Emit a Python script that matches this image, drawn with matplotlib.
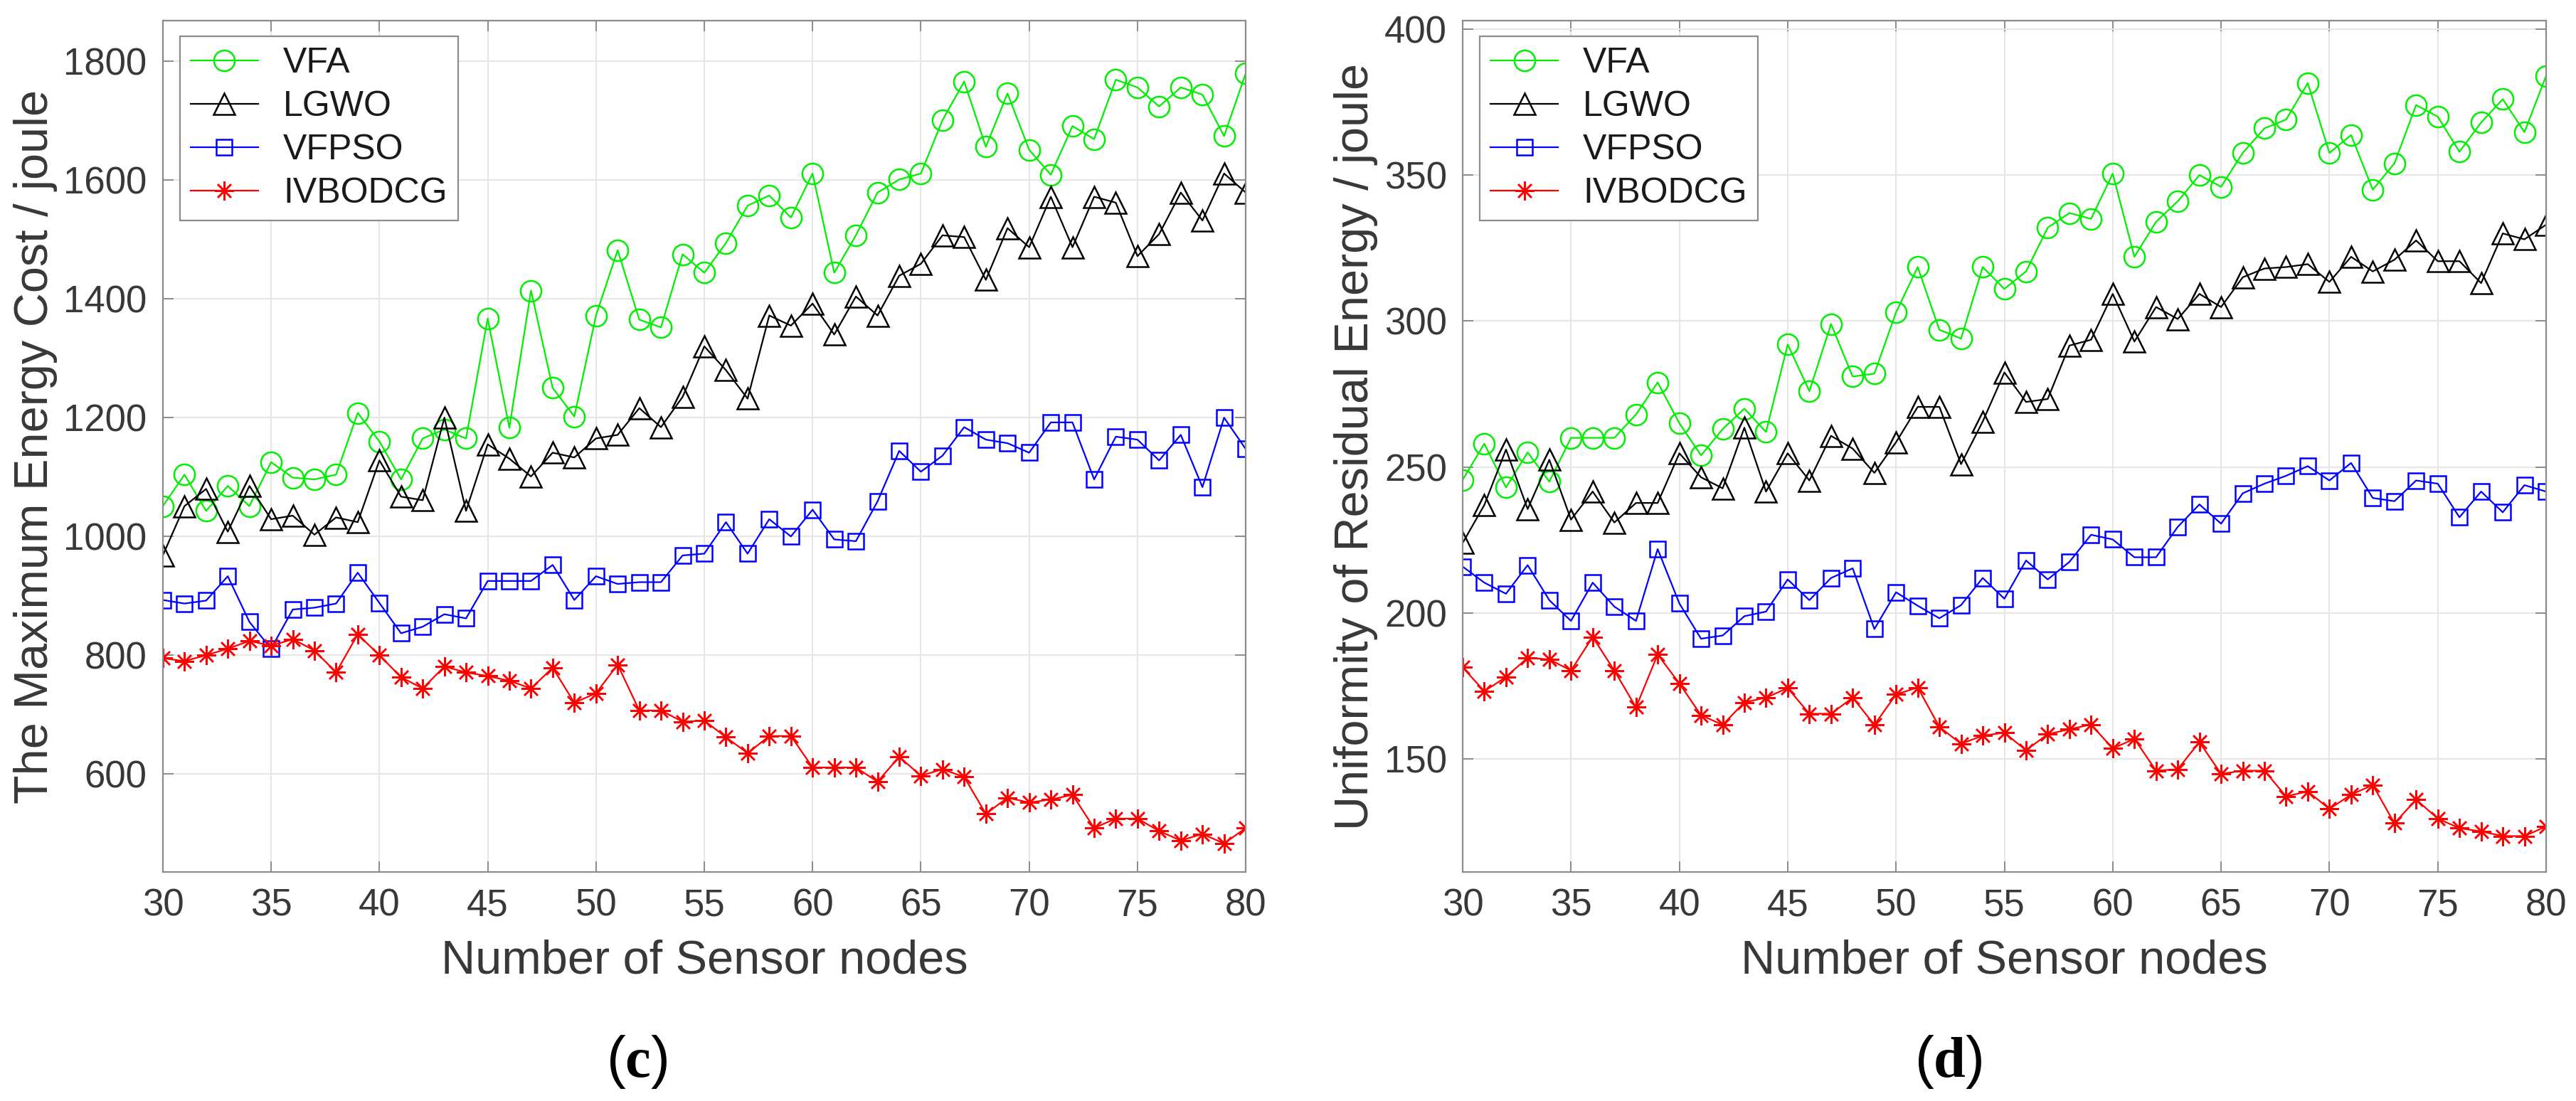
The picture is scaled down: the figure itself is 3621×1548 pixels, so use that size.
import numpy as np
import matplotlib
matplotlib.use("Agg")
import matplotlib.pyplot as plt

plt.rcParams['font.family'] = ['Liberation Sans', 'DejaVu Sans']
plt.rcParams['mathtext.fontset'] = 'custom'
plt.rcParams['mathtext.rm'] = 'Liberation Serif'
plt.rcParams['mathtext.bf'] = 'Liberation Serif:bold'

# numero di nodi sensore
nodes = list(range(30, 81))
series_names = ['VFA', 'LGWO', 'VFPSO', 'IVBODCG']

# (c) costo energetico massimo
cost_vfa = [1051, 1104, 1043, 1085, 1051, 1125, 1099, 1096, 1104, 1208, 1160,
            1096, 1165, 1180, 1165, 1367, 1183, 1414, 1250, 1202, 1372,
            1482, 1365, 1352, 1475, 1444, 1494, 1557, 1574, 1537, 1611,
            1444, 1507, 1579, 1601, 1611, 1701, 1766, 1656, 1746, 1651,
            1609, 1691, 1669, 1769, 1756, 1724, 1756, 1744, 1674, 1780]
cost_lgwo = [968, 1051, 1080, 1008, 1085, 1029, 1035, 1003, 1032, 1024, 1128,
             1067, 1061, 1200, 1043, 1155, 1131, 1101, 1141, 1133, 1165,
             1171, 1216, 1184, 1235, 1320, 1280, 1232, 1372, 1355, 1392,
             1340, 1404, 1372, 1439, 1459, 1507, 1504, 1432, 1519, 1487,
             1572, 1487, 1572, 1562, 1472, 1509, 1579, 1532, 1611, 1579]
cost_vfpso = [893, 887, 892, 933, 856, 811, 877, 880, 887, 939, 888,
              837, 848, 869, 862, 925, 925, 925, 952, 893, 933,
              920, 923, 923, 968, 971, 1024, 971, 1029, 1000, 1045,
              995, 992, 1059, 1144, 1109, 1136, 1184, 1163, 1157, 1141,
              1192, 1192, 1096, 1168, 1163, 1128, 1171, 1083, 1200, 1147]
cost_ivbodcg = [795, 790, 800, 811, 824, 816, 827, 808, 771, 835, 800,
                763, 744, 781, 771, 765, 757, 744, 779, 720, 736,
                784, 707, 707, 688, 690, 662, 635, 664, 664, 611,
                611, 611, 587, 629, 597, 608, 595, 533, 560, 552,
                557, 565, 509, 525, 525, 504, 488, 499, 483, 509]

# (d) uniformita' dell'energia residua
unif_vfa = [245.6, 258, 243, 255, 245, 260, 260, 260, 268, 279, 265,
            254, 263, 270, 262, 292, 276, 299, 281, 282, 303,
            318.5, 297, 294, 318.5, 311, 317, 332, 337, 335, 350.5,
            322, 334, 341, 350, 346, 357.6, 366, 369, 381.5, 357.6,
            363.7, 345, 354, 374, 370, 358, 368, 376, 364.7, 384]
unif_lgwo = [224, 237, 256, 235.6, 252.5, 232, 241.6, 231, 237.7, 237.7, 254.7,
             246.5, 242.7, 263.5, 241.6, 254.7, 245.4, 260.7, 256.3, 248, 258.5,
             270.6, 270.6, 251, 265.6, 282.4, 272.3, 273.3, 291.6, 293.6, 309.3,
             293, 304.8, 300.7, 309.3, 304.8, 315, 318, 318.5, 319.5, 313.4,
             322, 317, 321, 327.6, 320.5, 320.5, 313, 330, 328, 333]
unif_vfpso = [215.9, 210.4, 206.6, 216.4, 204.4, 197.3, 210.4, 202.2, 197.3, 221.9, 203.3,
              191.2, 192.3, 198.9, 200.5, 211.5, 204.4, 212, 215.3, 194.5, 207.1,
              202.5, 198.2, 202.7, 212, 204.9, 218, 211.5, 217.5, 226.8, 225.2,
              219.1, 219.1, 229.5, 237.2, 230.6, 241, 244.3, 247, 250.3, 245.4,
              251.4, 239.4, 238.3, 245.4, 244.3, 232.8, 241.6, 234.5, 243.8, 241.6]
unif_ivbodcg = [181.4, 173.2, 178.1, 184.7, 184.1, 180.3, 191.8, 180.3, 167.7, 185.8, 175.9,
                165, 161.7, 169.4, 171, 174.3, 165.5, 165.5, 171, 161.7, 172.1,
                174.5, 161, 155.2, 158, 159, 153, 158.5, 160.2, 161.8, 153.6,
                156.9, 146, 146.5, 155.8, 144.9, 146, 146, 137.2, 138.9, 132.9,
                137.8, 141.1, 128, 136.1, 129.6, 126.3, 125.2, 123.6, 123.6, 126.9]

xticks = [30, 35, 40, 45, 50, 55, 60, 65, 70, 75, 80]
cost_yticks = [600, 800, 1000, 1200, 1400, 1600, 1800]
unif_yticks = [150, 200, 250, 300, 350, 400]

# stili delle serie (colore, marker, dimensione)
styles = [('#00ee00', 'o', 21), ('black', '^', 21),
          ('#0000ff', 's', 16), ('#ff0000', (8, 2, 0), 19)]

grey = '#8c8c8c'
txt = '#383838'

fig = plt.figure(figsize=(36.21, 15.48), dpi=100)
ax1 = fig.add_axes([0.0632, 0.208, 0.4204, 0.773])
ax2 = fig.add_axes([0.5678, 0.208, 0.4206, 0.773])


def draw(ax, data, ylim, yticks, ylabel):
    for vals, name, (col, mk, ms) in zip(data, series_names, styles):
        ax.plot(nodes, vals, color=col, marker=mk, markersize=ms,
                markerfacecolor='none', markeredgecolor=col,
                markeredgewidth=1.8, linewidth=1.6, label=name)
    ax.set_xlim(30, 80)
    ax.set_ylim(*ylim)
    ax.set_xticks(xticks)
    ax.set_yticks(yticks)
    ax.grid(True, color='#e6e6e6', linewidth=1.5)
    ax.set_axisbelow(True)
    for s in ax.spines.values():
        s.set_color(grey)
        s.set_linewidth(1.6)
    ax.tick_params(direction='in', top=True, right=True, length=11,
                   width=1.4, color=grey, labelsize=38, labelcolor=txt, pad=16)
    ax.set_xlabel('Number of Sensor nodes', fontsize=48, color=txt, labelpad=16)
    ax.set_ylabel(ylabel, fontsize=48, color=txt, labelpad=6)
    leg = ax.legend(loc='upper left', bbox_to_anchor=(0.0158, 0.9816),
                    borderaxespad=0, fontsize=36, handlelength=1.9,
                    handletextpad=0.7, labelspacing=0.3, borderpad=0.3,
                    fancybox=False, framealpha=1)
    leg.get_frame().set_edgecolor(grey)
    leg.get_frame().set_linewidth(1.6)
    for t in leg.get_texts():
        t.set_color('#1a1a1a')


draw(ax1, [cost_vfa, cost_lgwo, cost_vfpso, cost_ivbodcg],
     (435, 1868), cost_yticks, 'The Maximum Energy Cost / joule')
draw(ax2, [unif_vfa, unif_lgwo, unif_vfpso, unif_ivbodcg],
     (111.3, 402.8), unif_yticks, 'Uniformity of Residual Energy / joule')

fig.text(895 / 3621, 1 - 1493 / 1548, r'($\mathbf{c}$)', fontsize=58,
         ha='center', va='center', color='black')
fig.text(2739 / 3621, 1 - 1493 / 1548, r'($\mathbf{d}$)', fontsize=58,
         ha='center', va='center', color='black')

fig.savefig('out.png', dpi=100)
